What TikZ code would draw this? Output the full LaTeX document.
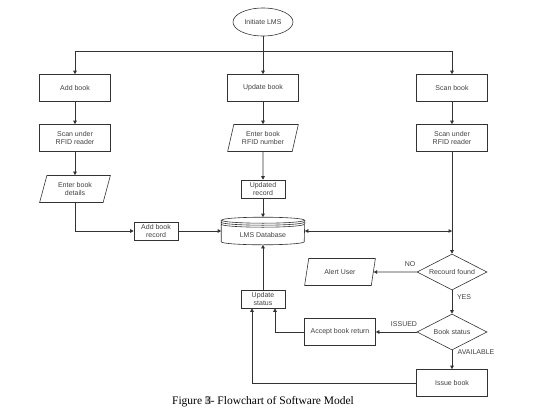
\documentclass[tikz,border=0pt]{standalone}
\usepackage{fontspec}
\setmainfont{Liberation Serif}
\newfontfamily\chartfont{Liberation Sans}
\usetikzlibrary{shapes.geometric,arrows.meta,calc}
\tikzset{
  flow/.style={draw=black!80, line width=0.6pt},
  arr/.style={flow, -{Triangle[length=3.5pt,width=3.5pt]}},
  box/.style={flow, rectangle, minimum width=71pt, minimum height=27pt,
    align=center, inner sep=1pt, text=black!75,
    font=\chartfont\fontsize{7}{8}\selectfont},
  smallbox/.style={box, minimum width=44pt, minimum height=18pt},
  io/.style={box, trapezium, trapezium left angle=73, trapezium right angle=107,
    trapezium stretches=true},
  choice/.style={box, diamond, aspect=2, minimum width=70pt, minimum height=36pt},
  start/.style={box, ellipse, minimum width=60pt, minimum height=28pt},
  dbnode/.style={box, draw=none, minimum width=83pt, minimum height=27pt},
  tag/.style={text=black!75, font=\chartfont\fontsize{7}{8}\selectfont, inner sep=0pt}
}
\begin{document}
\begin{tikzpicture}[x=1pt,y=-1pt]
  \useasboundingbox (0,0) rectangle (533,410);
  % nodes
  \node[start] (init) at (263,22) {Initiate LMS};
  \node[box] (add) at (75,88) {Add book};
  \node[box] (upd) at (263,88) {Update book};
  \node[box] (scan) at (452,88) {Scan book};
  \node[box] (rfidL) at (75,138) {Scan under\\RFID reader};
  \node[io] (rfidnum) at (263,138) {Enter book\\RFID number};
  \node[box] (rfidR) at (452,138) {Scan under\\RFID reader};
  \node[io] (details) at (75,189) {Enter book\\details};
  \node[smallbox] (updrec) at (263,189) {Updated\\record};
  \node[smallbox] (addrec) at (156,231) {Add book\\record};
  \node[dbnode] (db) at (263,231) {\raisebox{-6pt}[0pt][0pt]{LMS Database}};
  \node[choice] (found) at (452,272) {Recourd found};
  \node[io] (alert) at (340,272) {Alert User};
  \node[choice] (status) at (452,332) {Book status};
  \node[box] (accept) at (340,332) {Accept book return};
  \node[box] (issue) at (452,383) {Issue book};
  \node[smallbox] (updst) at (263,299) {Update\\status};
  \coordinate (split) at (263,51);
  \coordinate (meet) at (452,231);
  % database drum
  \draw[flow] ($(db.north west)+(0,3)$) -- ($(db.south west)+(0,-3)$)
    arc[start angle=180, end angle=360, x radius=41.5pt, y radius=3pt]
    -- ($(db.north east)+(0,3)$);
  \draw[flow] ($(db.north)+(0,3)$) ellipse [x radius=41.5pt, y radius=3pt];
  \draw[flow] ($(db.north west)+(0,5)$)
    arc[start angle=180, end angle=360, x radius=41.5pt, y radius=3pt];
  \draw[flow] ($(db.north west)+(0,7)$)
    arc[start angle=180, end angle=360, x radius=41.5pt, y radius=3pt];
  % connectors
  \draw[arr] (init) -- (upd);
  \draw[arr] (split) -| (add);
  \draw[arr] (split) -| (scan);
  \draw[arr] (add) -- (rfidL);
  \draw[arr] (rfidL) -- (details);
  \draw[arr] (details.south) |- (addrec.west);
  \draw[arr] (addrec) -- (db.west);
  \draw[arr] (upd) -- (rfidnum);
  \draw[arr] (rfidnum) -- (updrec);
  \draw[arr] (updrec) -- (db.north);
  \draw[arr] (scan) -- (rfidR);
  \draw[arr] (rfidR) -- (found);
  \draw[flow, {Triangle[length=3.5pt,width=3.5pt]}-{Triangle[length=3.5pt,width=3.5pt]}]
    (db.east) -- (meet);
  \draw[arr] (found) -- (alert);
  \draw[arr] (found) -- (status);
  \draw[arr] (status) -- (accept);
  \draw[arr] (status) -- (issue);
  \draw[arr] (accept.west) -| ($(updst.south)+(12,0)$);
  \draw[arr] (issue.west) -| ($(updst.south)+(-11,0)$);
  \draw[arr] (updst) -- (db.south);
  % labels
  \node[tag] (no) at (410,264) {NO};
  \node[tag] (yes) at (464,297) {YES};
  \node[tag] (issued) at (404,324) {ISSUED};
  \node[tag] (avail) at (476,352) {AVAILABLE};
  % caption
  \node[inner sep=0pt, font=\fontsize{11.5}{13}\selectfont, anchor=base] (cap) at (263,404)
    {Figure {\fboxsep=0pt\colorbox{black!20}{3}}- Flowchart of Software Model};
\end{tikzpicture}
\end{document}
